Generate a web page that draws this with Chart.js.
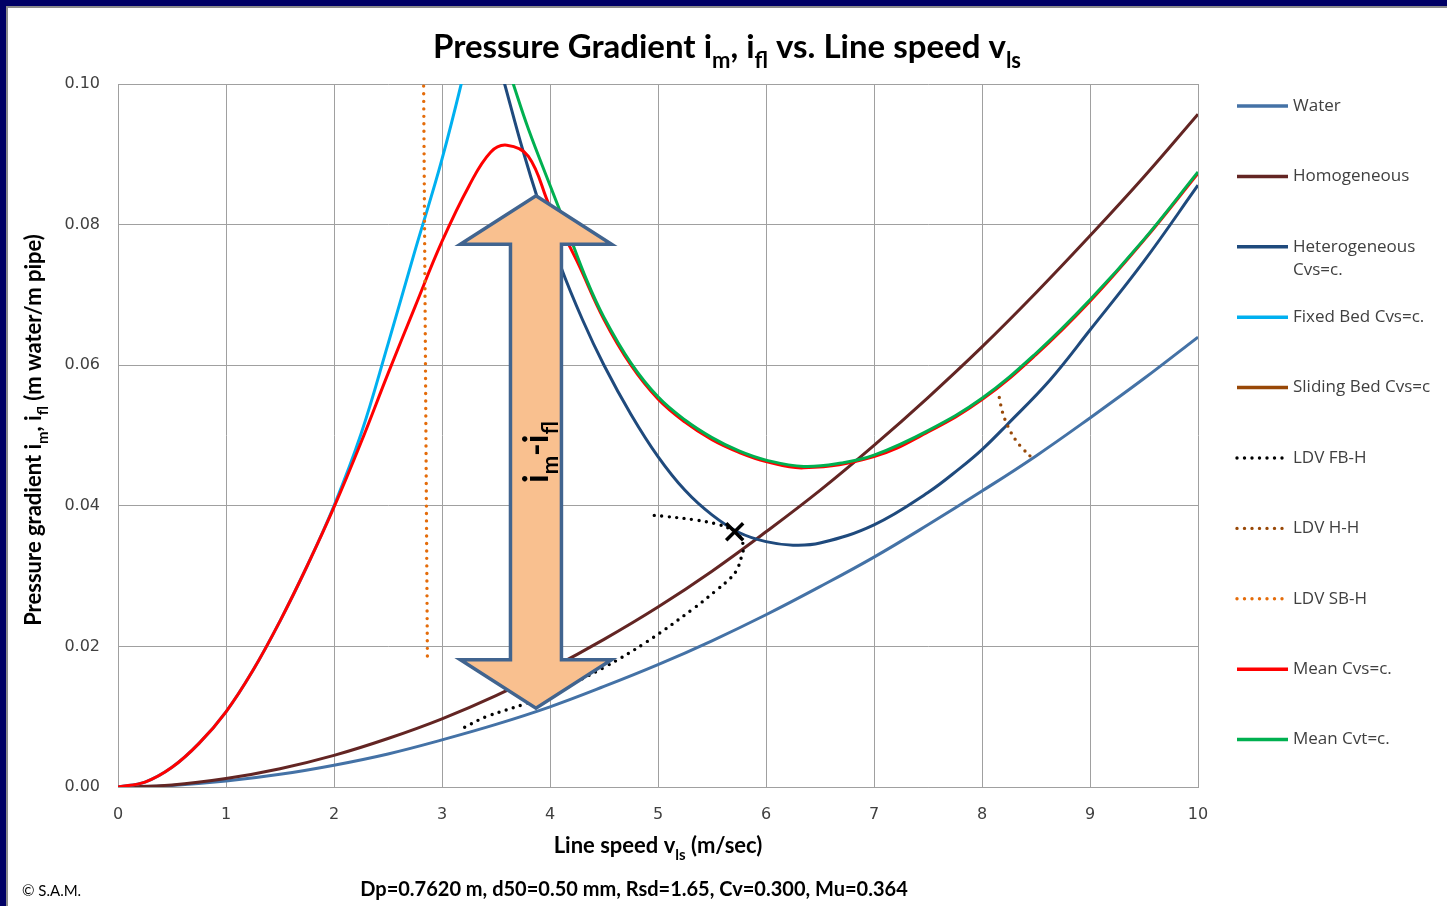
<!DOCTYPE html>
<html>
<head>
<meta charset="utf-8">
<title>Pressure Gradient vs. Line speed</title>
<script src="https://cdn.jsdelivr.net/npm/chart.js@4.4.0/dist/chart.umd.min.js"></script>
<style>
html, body { margin: 0; padding: 0; background: #fff; }
#wrap { position: relative; width: 1447px; height: 906px; }
</style>
</head>
<body>
<div id="wrap"><canvas id="myChart" width="1447" height="906"></canvas></div>
<script>
// line speed vls (m/sec) and pressure gradient (m water / m pipe)
const vBase = [0,0.5,1,1.5,2,2.5,3,3.5,4,4.5,5,5.5,6,6.5,7,7.5,8,8.5,9,9.5,10];
const iWater = [0,0.00023,0.00084,0.0018,0.0031,0.0047,0.0067,0.0089,0.0114,0.0143,0.0174,0.0208,0.0245,0.0285,0.0327,0.0373,0.0421,0.0471,0.0525,0.0581,0.064];
const iHomog = [0,0.0003,0.0012,0.0026,0.0045,0.0069,0.0097,0.0130,0.0168,0.0210,0.0256,0.0307,0.0363,0.0422,0.0486,0.0554,0.0626,0.0703,0.0784,0.0868,0.0957];

const vHetero = [3.5,3.58,3.75,3.9,4.1,4.3,4.5,4.75,5,5.25,5.5,5.75,6,6.25,6.5,7,7.5,7.8,8,8.23,8.63,9,9.5,10];
const iHetero = [0.1045,0.1,0.0905,0.0830,0.0740,0.0665,0.0600,0.0530,0.0470,0.0422,0.0387,0.0362,0.0349,0.0344,0.0347,0.0373,0.0419,0.0454,0.0480,0.0515,0.0579,0.0650,0.0748,0.0856];

const vFixed = [0,0.25,0.5,0.75,1,1.25,1.5,1.75,2,2.25,2.5,2.75,3,3.25,3.4];
const iFixed = [0,0.0007,0.0028,0.0062,0.0107,0.0166,0.0236,0.0314,0.0400,0.0502,0.0630,0.0763,0.0893,0.1045,0.114];

const vSliding = [];
const iSliding = [];

const vMeanCvs = [0,0.25,0.5,0.75,1,1.25,1.5,1.75,2,2.25,2.5,2.75,3,3.25,3.45,3.6,3.8,4,4.25,4.5,4.75,5,5.25,5.5,5.75,6,6.35,7,7.5,8,8.5,9,9.5,10];
const iMeanCvs = [0,0.0007,0.0028,0.0062,0.0107,0.0166,0.0236,0.0314,0.0398,0.0490,0.0588,0.0683,0.0776,0.0855,0.0903,0.0913,0.0897,0.0825,0.0748,0.0665,0.0600,0.0552,0.0519,0.0494,0.0476,0.0463,0.0454,0.0470,0.0505,0.0551,0.0615,0.0691,0.0778,0.0873];

const vMeanCvt = [3.55,3.66,3.8,4,4.15,4.34,4.5,4.75,5,5.25,5.5,5.75,6,6.35,6.7,7,7.5,8,8.5,9,9.5,10];
const iMeanCvt = [0.1052,0.1,0.0936,0.0856,0.0797,0.0721,0.0668,0.0603,0.0555,0.0522,0.0497,0.0478,0.0465,0.0456,0.0461,0.0472,0.0507,0.0553,0.0617,0.0693,0.0779,0.0875];

const vLdvFB = [3.21,3.41,3.8,4.09,4.5,4.9,5.33,5.55,5.67,5.73,5.77,5.79,5.76,5.68,5.57,5.34,5.06,4.92];
const iLdvFB = [0.0085,0.0100,0.0120,0.0139,0.0170,0.0207,0.0254,0.0281,0.0297,0.0309,0.0326,0.0340,0.0356,0.0366,0.0373,0.0380,0.0385,0.0387];

const vLdvHH = [8.16,8.19,8.24,8.31,8.38,8.47];
const iLdvHH = [0.0554,0.0533,0.0513,0.0494,0.0481,0.0467];

const vLdvSB = [2.83,2.865];
const iLdvSB = [0.0997,0.0180];

// transition point marked with a cross
const vLimit = [5.71];
const iLimit = [0.0363];

// im - ifl arrow, in axis units
const arrowV = 3.87;
const arrowTop = 0.0841;
const arrowBottom = 0.0112;
const arrowHeadLen = 0.0069;
const arrowHeadHalf = 0.70;
const arrowShaftHalf = 0.236;

const xTicks = [0,1,2,3,4,5,6,7,8,9,10];
const yTicks = [0,0.02,0.04,0.06,0.08,0.10];

function pts(xs, ys){
    return xs.map(function(x, k){ return {x: x, y: ys[k]}; });
}

const DOTS = [0, 7.5];

function line(label, xs, ys, color, order, dash){
    return {
        label: label,
        data: pts(xs, ys),
        showLine: true,
        borderColor: color,
        backgroundColor: color,
        borderWidth: dash ? 3.4 : 3,
        borderDash: dash ? DOTS : [],
        borderCapStyle: dash ? 'round' : 'butt',
        pointRadius: 0,
        pointHoverRadius: 0,
        tension: 0.4,
        order: order
    };
}

const datasets = [
    line('Water', vBase, iWater, '#4472a6', 8),
    line('Homogeneous', vBase, iHomog, '#632523', 7),
    line('Heterogeneous\nCvs=c.', vHetero, iHetero, '#1f4a7d', 5),
    line('Fixed Bed Cvs=c.', vFixed, iFixed, '#00b0f0', 6),
    line('Sliding Bed Cvs=c', vSliding, iSliding, '#984807', 6),
    line('LDV FB-H', vLdvFB, iLdvFB, '#000000', 1, true),
    line('LDV H-H', vLdvHH, iLdvHH, '#984807', 1, true),
    line('LDV SB-H', vLdvSB, iLdvSB, '#e46c0a', 1, true),
    line('Mean Cvs=c.', vMeanCvs, iMeanCvs, '#ff0000', 3),
    line('Mean Cvt=c.', vMeanCvt, iMeanCvt, '#00b050', 2),
    {
        data: pts(vLimit, iLimit),
        showLine: false,
        pointStyle: 'crossRot',
        pointRadius: 12,
        pointBorderWidth: 3.5,
        borderColor: '#000000',
        backgroundColor: '#000000',
        noLegend: true,
        order: 0
    }
];

// text with subscripts: runs of [text, isSub]
function drawRuns(ctx, runs, x, y, size, weight, color){
    const mainFont = weight + ' ' + size + 'px Lato';
    const subFont = weight + ' ' + Math.round(size * 0.66) + 'px Lato';
    let w = 0;
    runs.forEach(function(r){
        ctx.font = r[1] ? subFont : mainFont;
        w += ctx.measureText(r[0]).width;
    });
    let cx = x - w / 2;
    ctx.fillStyle = color;
    ctx.textAlign = 'left';
    ctx.textBaseline = 'alphabetic';
    runs.forEach(function(r){
        ctx.font = r[1] ? subFont : mainFont;
        ctx.fillText(r[0], cx, y + (r[1] ? size * 0.3 : 0));
        cx += ctx.measureText(r[0]).width;
    });
}

const decor = {
    id: 'decor',
    beforeDraw(chart){
        const ctx = chart.ctx;
        ctx.save();
        ctx.fillStyle = '#ffffff';
        ctx.fillRect(0, 0, chart.width, chart.height);
        ctx.fillStyle = '#000066';
        ctx.fillRect(0, 0, chart.width, 6);
        ctx.fillRect(0, 0, 6, chart.height);
        ctx.fillStyle = '#8c8c8c';
        ctx.fillRect(6, 6, chart.width - 6, 2);
        ctx.fillRect(6, 6, 2, chart.height - 6);
        ctx.restore();
    },
    afterDatasetsDraw(chart){
        const ctx = chart.ctx;
        const xs = chart.scales.x, ys = chart.scales.y;
        const cx = xs.getPixelForValue(arrowV);
        const hh = xs.getPixelForValue(arrowV + arrowHeadHalf) - cx;
        const sh = xs.getPixelForValue(arrowV + arrowShaftHalf) - cx;
        const top = ys.getPixelForValue(arrowTop);
        const bot = ys.getPixelForValue(arrowBottom);
        const topBase = ys.getPixelForValue(arrowTop - arrowHeadLen);
        const botBase = ys.getPixelForValue(arrowBottom + arrowHeadLen);
        ctx.save();
        ctx.beginPath();
        ctx.moveTo(cx, top);
        ctx.lineTo(cx + hh, topBase);
        ctx.lineTo(cx + sh, topBase);
        ctx.lineTo(cx + sh, botBase);
        ctx.lineTo(cx + hh, botBase);
        ctx.lineTo(cx, bot);
        ctx.lineTo(cx - hh, botBase);
        ctx.lineTo(cx - sh, botBase);
        ctx.lineTo(cx - sh, topBase);
        ctx.lineTo(cx - hh, topBase);
        ctx.closePath();
        ctx.fillStyle = '#f9c08f';
        ctx.fill();
        ctx.lineWidth = 3.5;
        ctx.lineJoin = 'miter';
        ctx.strokeStyle = '#41648f';
        ctx.stroke();

        ctx.translate(cx + 12, (top + bot) / 2);
        ctx.rotate(-Math.PI / 2);
        drawRuns(ctx, [['i', 0], ['m', 1], ['-i', 0], ['fl', 1]], 0, 0, 34, 'bold', '#000000');
        ctx.restore();
    },
    afterDraw(chart){
        const ctx = chart.ctx;
        ctx.save();
        drawRuns(ctx, [['Pressure Gradient i', 0], ['m', 1], [', i', 0], ['fl', 1], [' vs. Line speed v', 0], ['ls', 1]], 727, 58, 33, 'bold', '#000000');
        drawRuns(ctx, [['Line speed v', 0], ['ls', 1], [' (m/sec)', 0]], 658, 853, 22, 'bold', '#000000');
        ctx.save();
        ctx.translate(41, 430);
        ctx.rotate(-Math.PI / 2);
        drawRuns(ctx, [['Pressure gradient i', 0], ['m', 1], [', i', 0], ['fl', 1], [' (m water/m pipe)', 0]], 0, 0, 22, 'bold', '#000000');
        ctx.restore();
        drawRuns(ctx, [['Dp=0.7620 m, d50=0.50 mm, Rsd=1.65, Cv=0.300, Mu=0.364', 0]], 634, 896, 20, 'bold', '#000000');
        ctx.font = '15px Lato';
        ctx.fillStyle = '#000000';
        ctx.textAlign = 'left';
        ctx.fillText('\u00a9 S.A.M.', 22, 896);

        // legend
        let k = 0;
        chart.data.datasets.forEach(function(ds){
            if (ds.noLegend) return;
            const y = 106 + k * 70.4;
            ctx.beginPath();
            ctx.strokeStyle = ds.borderColor;
            ctx.lineWidth = ds.borderDash.length ? 3.4 : 3.5;
            ctx.setLineDash(ds.borderDash);
            ctx.lineCap = ds.borderDash.length ? 'round' : 'butt';
            ctx.moveTo(1237, y);
            ctx.lineTo(ds.borderDash.length ? 1284 : 1288, y);
            ctx.stroke();
            ctx.setLineDash([]);
            ctx.font = '17px "Open Sans"';
            ctx.fillStyle = '#404040';
            ctx.textBaseline = 'middle';
            ds.label.split('\n').forEach(function(t, n){
                ctx.fillText(t, 1293, y + n * 23);
            });
            k++;
        });
        ctx.restore();
    }
};

const can = document.getElementById('myChart');
new Chart(can, {
    type: 'scatter',
    data: { datasets: datasets },
    options: {
        responsive: false,
        maintainAspectRatio: false,
        animation: false,
        devicePixelRatio: 1,
        layout: { padding: { left: 0, top: 84, right: 249, bottom: 0 } },
        plugins: {
            legend: { display: false },
            tooltip: { enabled: false },
            title: { display: false }
        },
        scales: {
            x: {
                type: 'linear',
                min: 0, max: 10,
                afterFit: function(s){ s.height = 119; },
                afterBuildTicks: function(s){ s.ticks = xTicks.map(function(v){ return {value: v}; }); },
                grid: { color: '#a0a0a0', lineWidth: 1, drawTicks: false },
                border: { color: '#a0a0a0' },
                ticks: { padding: 18, color: '#404040', font: { family: 'DejaVu Sans', size: 16 }, maxRotation: 0 }
            },
            y: {
                type: 'linear',
                min: 0, max: 0.1,
                afterFit: function(s){ s.width = 118; },
                afterBuildTicks: function(s){ s.ticks = yTicks.map(function(v){ return {value: v}; }); },
                grid: { color: '#a0a0a0', lineWidth: 1, drawTicks: false },
                border: { color: '#a0a0a0' },
                ticks: {
                    padding: 18, color: '#404040', font: { family: 'DejaVu Sans', size: 16 },
                    callback: function(v){ return v.toFixed(2); }
                }
            }
        }
    },
    plugins: [decor]
});
</script>
</body>
</html>
